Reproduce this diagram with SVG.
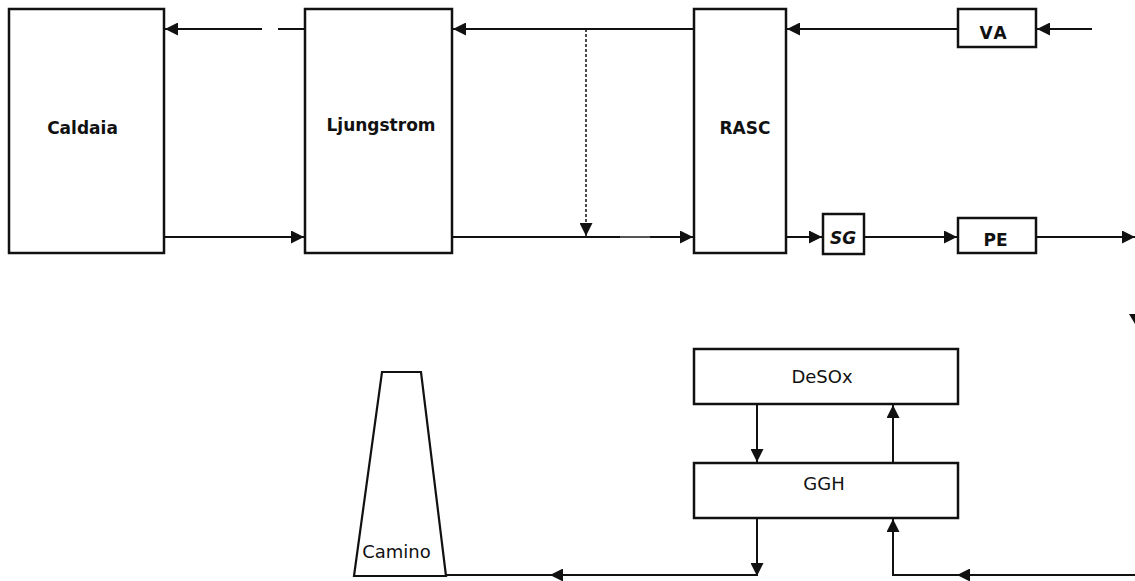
<svg xmlns="http://www.w3.org/2000/svg" width="1135" height="581" viewBox="0 0 1135 581">
<style>
.box{fill:#fff;stroke:#111;stroke-width:2.5}
.ln{fill:none;stroke:#111;stroke-width:2}
.dash{fill:none;stroke:#111;stroke-width:1.5;stroke-dasharray:3 2}
.t{font-family:"DejaVu Sans","Liberation Sans",sans-serif;font-weight:bold;font-size:17px;fill:#111;text-anchor:middle;dominant-baseline:central}
.tn{font-weight:normal;font-size:18px}
</style>
<defs>
<marker id="ah" markerWidth="13" markerHeight="13" viewBox="0 0 13 13" refX="13" refY="6.5" orient="auto" markerUnits="userSpaceOnUse">
<path d="M0,0 L13,6.5 L0,13 Z" fill="#111"/>
</marker>
</defs>
<rect width="1135" height="581" fill="#fff"/>
<g id="connectors">
<path class="ln" d="M305,29 H278"/>
<path class="ln" d="M262,29 H165" marker-end="url(#ah)"/>
<path class="ln" d="M164,237 H304" marker-end="url(#ah)"/>
<path class="ln" d="M694,29 H453" marker-end="url(#ah)"/>
<path class="dash" d="M586,29 V236" marker-end="url(#ah)"/>
<path class="ln" d="M452,237 H620"/>
<path style="fill:none;stroke:#555;stroke-width:2" d="M620,237 H650"/>
<path class="ln" d="M650,237 H693" marker-end="url(#ah)"/>
<path class="ln" d="M958,29 H787" marker-end="url(#ah)"/>
<path class="ln" d="M1092,29 H1037" marker-end="url(#ah)"/>
<path class="ln" d="M786,237 H822" marker-end="url(#ah)"/>
<path class="ln" d="M864,237 H957" marker-end="url(#ah)"/>
<path class="ln" d="M1036,237 H1135" marker-end="url(#ah)"/>
<path d="M1129,314 L1135,314 L1135,324 Z" fill="#111"/>
<path class="ln" d="M757,404 V462" marker-end="url(#ah)"/>
<path class="ln" d="M893,463 V405" marker-end="url(#ah)"/>
<path class="ln" d="M757,518 V576" marker-end="url(#ah)"/>
<path class="ln" d="M757,575 H550" marker-end="url(#ah)"/>
<path class="ln" d="M560,575 H446"/>
<path class="ln" d="M1135,575 H957" marker-end="url(#ah)"/>
<path class="ln" d="M967,575 H893 V519" marker-end="url(#ah)"/>
</g>
<g id="caldaia"><rect class="box" x="9" y="9" width="155" height="244"/><text class="t" x="82.5" y="128">Caldaia</text></g>
<g id="ljungstrom"><rect class="box" x="305" y="9" width="147" height="244"/><text class="t" x="381" y="125">Ljungstrom</text></g>
<g id="rasc"><rect class="box" x="694" y="9" width="92" height="244"/><text class="t" x="745" y="128">RASC</text></g>
<g id="va"><rect class="box" x="958" y="9" width="78" height="38"/><text class="t" x="994" y="33" letter-spacing="2">VA</text></g>
<g id="sg"><rect class="box" x="823" y="214" width="41" height="40"/><text class="t" x="843" y="238" font-style="italic">SG</text></g>
<g id="pe"><rect class="box" x="958" y="218" width="78" height="35"/><text class="t" x="995.5" y="240">PE</text></g>
<g id="desox"><rect class="box" x="694" y="349" width="264" height="55"/><text class="t tn" x="822" y="376">DeSOx</text></g>
<g id="ggh"><rect class="box" x="694" y="463" width="264" height="55"/><text class="t tn" x="824" y="483">GGH</text></g>
<g id="camino"><path class="ln" d="M354,576 L382,372 H421 L446,576 Z" style="stroke-width:2.2"/><text class="t tn" x="396.5" y="551">Camino</text></g>
</svg>
